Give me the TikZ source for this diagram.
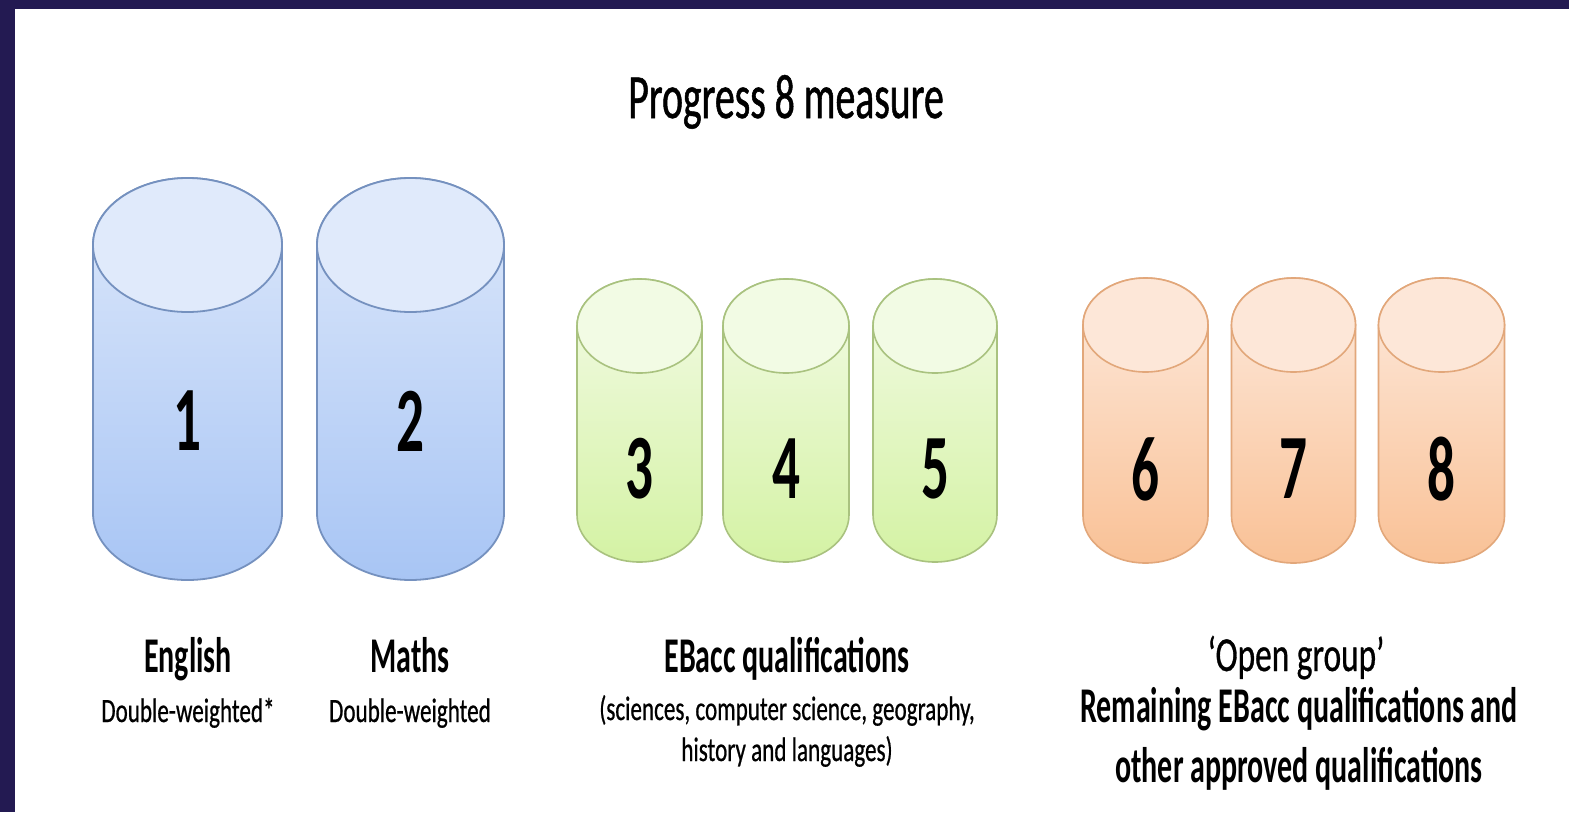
\documentclass[tikz,border=0pt]{standalone}
\usepackage{fontspec}
\setmainfont{Carlito}
\newfontfamily\regn{Carlito}[FakeStretch=0.68,FakeBold=0.6]
\newfontfamily\titlen{Carlito}[FakeStretch=0.63,FakeBold=0.8]
\newfontfamily\boldn{Carlito}[FakeStretch=0.6]
\definecolor{frame}{HTML}{231A52}
\definecolor{bluetop}{HTML}{DDE8FB}
\definecolor{bluebot}{HTML}{A8C5F4}
\definecolor{bluecap}{HTML}{E0EAFB}
\definecolor{bluedraw}{HTML}{7591BF}
\definecolor{greentop}{HTML}{F3FBE6}
\definecolor{greenbot}{HTML}{D4F2A4}
\definecolor{greencap}{HTML}{F2FBE4}
\definecolor{greendraw}{HTML}{A9C27F}
\definecolor{orangetop}{HTML}{FDEADD}
\definecolor{orangebot}{HTML}{F9C196}
\definecolor{orangecap}{HTML}{FDE7D8}
\definecolor{orangedraw}{HTML}{E2A77A}
\tikzset{
  blue body/.style={draw=bluedraw,line width=1.8pt,top color=bluetop,bottom color=bluebot},
  blue top/.style={draw=bluedraw,line width=1.8pt,fill=bluecap},
  green body/.style={draw=greendraw,line width=1.6pt,top color=greentop,bottom color=greenbot},
  green top/.style={draw=greendraw,line width=1.6pt,fill=greencap},
  orange body/.style={draw=orangedraw,line width=1.6pt,top color=orangetop,bottom color=orangebot},
  orange top/.style={draw=orangedraw,line width=1.6pt,fill=orangecap},
  numlabel/.style={inner sep=0pt,font=\boldn\bfseries\fontsize{92}{92}\selectfont},
  head/.style={inner sep=0pt,anchor=base,font=\boldn\bfseries\fontsize{50}{60}\selectfont},
  headreg/.style={inner sep=0pt,anchor=base,font=\regn\fontsize{49}{60}\selectfont},
  sub/.style={inner sep=0pt,anchor=base,font=\regn\fontsize{34}{40}\selectfont},
  titlestyle/.style={inner sep=0pt,anchor=base,font=\titlen\fontsize{63}{70}\selectfont},
}
\newcommand{\mycyl}[6]{%
  \pgfmathsetmacro\cxl{#1-#4}\pgfmathsetmacro\cxr{#1+#4}%
  \pgfmathsetmacro\yt{#2+#5}\pgfmathsetmacro\yb{#3-#5}%
  \path[#6 body] (\cxl,\yt) -- (\cxl,\yb) arc[start angle=180,end angle=0,x radius=#4,y radius=#5]
     -- (\cxr,\yt) arc[start angle=0,end angle=-180,x radius=#4,y radius=#5] -- cycle;
  \path[#6 top] (#1,\yt) ellipse[x radius=#4,y radius=#5];
}
\begin{document}
\begin{tikzpicture}[x=1pt,y=-1pt]
\useasboundingbox (0,0) rectangle (1569,812);
\fill[white] (0,0) rectangle (1569,812);
\fill[frame] (0,0) rectangle (15,812);
\fill[frame] (0,0) rectangle (1569,9);

\node[titlestyle] (title) at (786,118) {Progress 8 measure};

\mycyl{187.5}{178}{580}{94.5}{67}{blue}
\mycyl{410.5}{178}{580}{93.5}{67}{blue}
\mycyl{639.5}{279}{562}{62.5}{47}{green}
\mycyl{786}{279}{562}{63}{47}{green}
\mycyl{935}{279}{562}{62}{47}{green}
\mycyl{1145.5}{278}{563}{62.5}{47}{orange}
\mycyl{1293.5}{278}{563}{62}{47}{orange}
\mycyl{1441.5}{278}{563}{63}{47}{orange}

\node[numlabel] (n1) at (187.5,421) {1};
\node[numlabel] (n2) at (410.5,421) {2};
\node[numlabel] (n3) at (639.5,469) {3};
\node[numlabel] (n4) at (786,469) {4};
\node[numlabel] (n5) at (935,469) {5};
\node[numlabel] (n6) at (1145.5,469) {6};
\node[numlabel] (n7) at (1293.5,469) {7};
\node[numlabel] (n8) at (1441.5,469) {8};

\node[head] (eng) at (188,672) {English};
\node[sub] (engsub) at (188,722) {Double-weighted*};
\node[head] (mat) at (410,672) {Maths};
\node[sub] (matsub) at (410,722) {Double-weighted};
\node[head] (eb) at (787,672) {EBacc qualifications};
\node[sub] (ebsub1) at (787,720) {(sciences, computer science, geography,};
\node[sub] (ebsub2) at (787,761) {history and languages)};
\node[headreg] (og) at (1296,671) {‘Open group’};
\node[head] (og1) at (1299,722) {Remaining EBacc qualifications and};
\node[head] (og2) at (1299,782) {other approved qualifications};
\end{tikzpicture}
\end{document}
